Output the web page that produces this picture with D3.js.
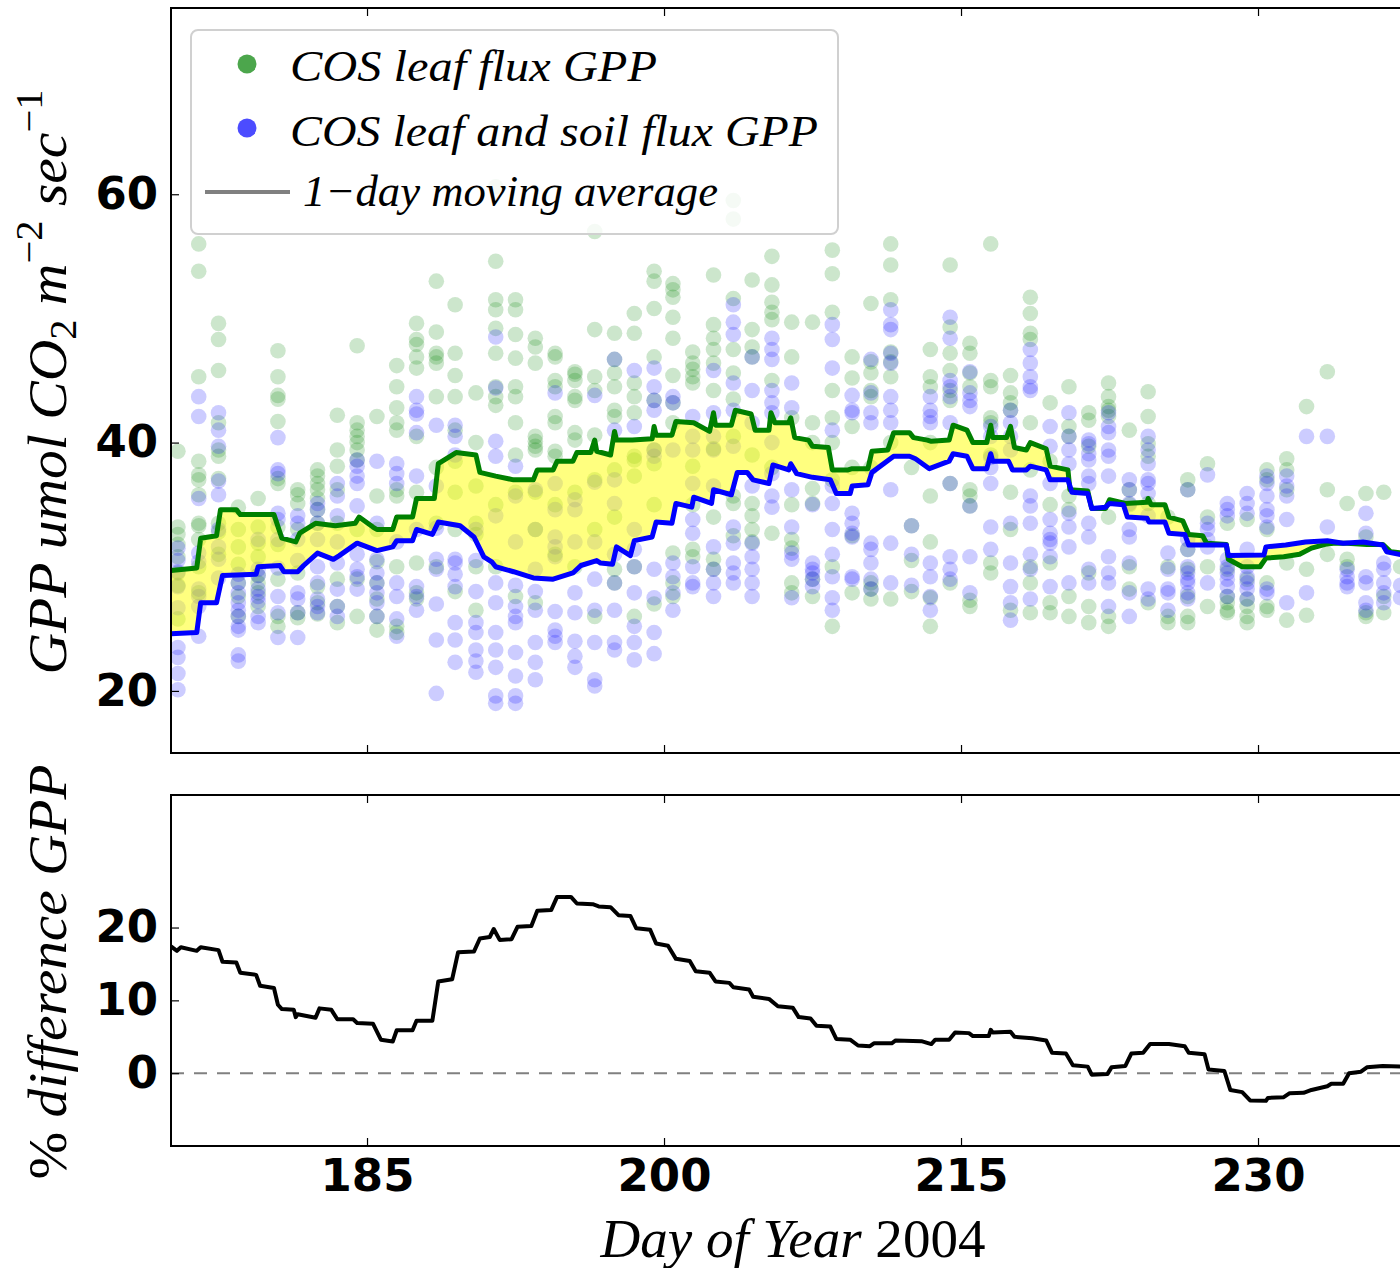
<!DOCTYPE html>
<html><head><meta charset="utf-8">
<script src="https://cdn.jsdelivr.net/npm/d3@7"></script>
<style>body{margin:0;background:#fff} svg{display:block}</style>
</head><body><svg id="c" width="1400" height="1268"></svg>
<script>
// ---------- DATA ----------
const colDays = [175.45,176.5,177.5,178.5,179.5,180.5,181.5,182.5,183.5,184.5,185.5,186.5,187.5,188.5,189.45,190.5,191.5,192.5,193.5,194.5,195.5,196.5,197.5,198.5,199.5,200.45,201.45,202.5,203.5,204.45,205.45,206.45,207.5,208.5,209.5,210.45,211.45,212.5,213.45,214.45,215.45,216.5,217.5,218.5,219.5,220.45,221.45,222.45,223.5,224.45,225.45,226.45,227.45,228.45,229.45,230.45,231.45,232.45,233.5,234.5,235.45,236.35,237.2];
const leafGPP = [
[39.3,33.2,32.6,31.8,30.8,29.5,28.5,25.8],
[56.0,53.8,45.3,38.5,37.4,37.0,35.8,33.5,33.3,32.2,30.0,27.9],
[49.6,48.3,45.8,41.6,39.4,38.9,37.1,33.5,32.8,31.0],
[34.8,33.0,31.6,30.2,28.7,27.6,26.0],
[35.5,33.2,31.9,30.8,29.3,28.7,27.9,26.8],
[47.4,45.3,43.8,43.5,41.7,37.1,36.7,33.2,31.8,29.0,26.0,25.2],
[36.2,35.8,35.1,33.0,29.5,26.3,25.9],
[37.8,37.3,36.7,36.2,35.5,34.6,33.5,28.4,27.1,26.2],
[42.2,39.4,38.1,36.2,33.5,29.0,26.8,25.5],
[47.8,41.6,41.0,40.5,40.0,39.4,38.6,33.0,29.0,26.0],
[42.1,35.7,33.0,30.4,28.7,27.4,26.0,24.9],
[46.2,44.5,42.8,41.6,41.0,36.2,35.7,30.0,25.2,24.7],
[49.6,48.3,47.9,46.9,46.0,40.5,36.0,30.3,27.9,27.4],
[53.0,48.9,47.2,46.9,46.4,43.7,38.0,33.5,30.0],
[51.1,47.2,45.4,43.7,41.0,38.5,36.0,33.0,28.0],
[44.0,40.0,36.5,33.5,32.6,30.0,26.5],
[60.6,54.6,51.5,50.7,49.2,47.2,44.5,43.7,43.0,35.0,30.0],
[51.5,50.7,48.7,46.8,44.5,43.7,41.6,39.0,36.0,27.6],
[48.4,47.7,46.4,40.5,40.1,39.7,39.4,36.0,33.0,27.1],
[47.2,46.9,45.0,44.5,42.1,41.6,39.3,38.9,35.0,31.0],
[45.7,45.5,45.0,43.7,43.4,40.8,40.2,36.0,30.0],
[57.0,49.1,45.3,44.2,40.6,37.0,33.0,26.0],
[48.8,46.7,45.6,44.5,42.6,42.1,37.8,34.0,29.8,28.7],
[50.4,48.8,44.8,43.7,42.4,38.9,38.6,37.3,30.0,26.0],
[53.8,53.0,50.8,46.9,43.4,39.4,38.3,35.0,27.0],
[52.8,52.3,51.7,50.1,48.4,45.4,43.2,41.6,31.1,28.7,27.6],
[47.3,46.4,45.9,45.3,44.8,38.1,35.0,31.4,30.8],
[53.5,49.5,48.4,47.5,46.4,44.2,39.5,34.0,30.6,29.8],
[59.5,58.0,51.6,47.5,45.6,43.5,40.5,35.7,35.1,32.5],
[53.1,49.1,47.7,46.9,39.0,35.1,34.1,33.0,32.0],
[55.0,52.7,51.3,50.5,49.9,45.0,38.0,32.7],
[49.7,46.9,42.0,35.0,32.2,31.5,28.7,27.9],
[49.7,41.6,40.0,36.3,35.1,29.0,27.6],
[55.5,53.6,50.5,44.2,42.0,40.0,37.0,30.0,25.2],
[46.9,45.2,41.3,38.0,32.5,27.9],
[51.2,46.5,45.6,44.2,43.7,38.0,28.7,28.2,27.4],
[56.0,54.3,51.5,47.3,46.5,45.3,40.0,27.4],
[38.0,33.3,30.5,28.0],
[47.5,45.3,44.5,40.0,35.7,32.0,27.5,25.2],
[54.3,49.3,47.2,45.8,44.2,43.4,36.7,28.7],
[48.0,47.2,45.6,44.5,36.2,35.7,34.9,27.3,26.8],
[56.0,45.0,44.5,42.0,41.6,39.0,30.3,29.5],
[45.4,44.0,43.2,42.6,36.0,33.0,26.5],
[51.7,50.4,48.8,48.3,41.6,37.8,30.0,28.7,26.3],
[43.2,38.5,35.0,30.3,27.1,26.3],
[44.5,41.3,40.5,35.7,34.6,27.6,26.0],
[42.4,41.8,39.7,29.5,26.8,25.5],
[44.8,43.7,42.9,42.6,42.1,34.0,26.0,25.2],
[41.0,36.2,35.0,30.0,28.2],
[44.1,42.1,39.9,38.9,35.1,27.1],
[34.0,30.0,26.0,25.5],
[37.0,36.2,31.4,29.8,27.6,26.0,25.5],
[38.3,34.0,30.0,26.8],
[33.5,29.8,27.6,27.1,26.5,26.3],
[33.8,29.0,27.4,26.8,26.0,25.5],
[37.8,37.0,33.0,28.7,26.8,26.5],
[38.7,37.8,36.2,30.3,25.7],
[42.9,29.8,26.1],
[45.7,36.2,31.0],
[35.1,30.6,30.0],
[35.9,32.4,26.3,26.0],
[36.0,27.6,26.3],
[30.0]
];
const soilGPP = [
[31.5,30.5,29.6,28.4,26.7,23.5,22.7,21.4,20.1],
[43.7,42.1,35.5,31.1,30.4,28.2,27.6,26.8,24.4],
[42.4,41.0,39.7,36.9,35.8,33.0,31.6,30.6,29.1],
[29.4,28.7,27.9,27.1,26.5,26.0,25.2,24.9,22.9,22.4],
[32.2,29.8,29.3,28.2,27.6,27.2,26.0,25.5],
[40.4,37.8,37.5,34.3,33.8,32.2,29.9,27.6,26.3,24.3],
[34.1,33.5,32.2,30.5,27.9,27.4,26.3,24.3],
[35.1,34.6,33.5,32.2,30.0,28.7,27.4,26.8,26.3],
[36.7,35.7,34.1,32.0,30.3,28.2,26.8,26.0],
[38.6,38.1,37.3,36.7,34.9,31.0,29.8,29.2,28.2],
[38.5,33.5,30.6,29.5,28.7,27.9,27.1,26.0],
[38.3,37.5,36.7,32.0,28.7,27.6,25.8,24.4],
[43.7,42.6,42.3,40.8,37.3,33.0,28.4,27.6,26.5],
[41.4,36.5,33.1,30.6,29.8,27.0,24.1,19.8],
[41.4,40.5,39.0,30.6,30.3,29.4,28.4,25.5,24.1,22.3],
[33.0,30.5,28.0,25.5,24.7,23.3,22.4,21.5],
[48.5,44.4,40.1,38.9,34.1,28.7,27.1,24.7,23.3,21.9,19.6,19.0],
[38.1,35.7,32.0,28.5,26.8,26.0,25.5,23.1,21.2,19.6,19.0],
[36.2,33.0,29.8,28.0,26.5,23.9,22.3,20.9],
[44.0,36.7,34.6,32.4,31.6,30.8,26.4,24.9,24.4,23.9],
[35.4,34.6,32.0,27.9,26.3,24.0,22.8,21.9],
[43.8,36.8,32.0,29.0,26.5,23.9,20.9,20.4],
[46.7,41.0,37.0,35.1,31.0,28.7,26.5,23.9,23.3],
[45.8,41.3,33.0,31.4,30.0,27.9,25.2,23.9,22.5],
[46.0,44.5,43.4,42.6,39.4,38.9,29.8,27.5,24.7,23.0],
[43.7,43.2,39.4,30.3,29.2,27.9,26.5],
[42.1,40.5,39.4,36.7,33.8,32.7,30.0,28.7,28.4],
[45.8,42.4,40.5,39.4,36.5,31.6,29.8,28.7,27.6],
[51.1,49.7,48.7,44.8,42.6,39.7,33.2,31.9,30.3,29.5,28.7],
[46.9,44.2,41.6,36.5,31.9,30.8,29.8,28.7,27.6],
[48.4,47.5,46.7,44.2,43.2,42.4,40.0,37.5,35.7,34.8],
[44.8,42.8,36.2,33.2,31.1,30.6,27.5],
[35.0,30.3,29.8,29.5,29.0,28.4],
[49.5,48.3,46.0,41.0,36.5,35.1,33.0,31.0,29.2,27.5,26.5],
[43.8,42.6,42.4,34.3,33.5,32.7,32.4,29.2,29.0],
[46.7,44.0,42.4,41.6,31.9,31.4,30.3,29.0,28.2],
[50.7,49.5,49.1,47.2,46.4,43.7,42.6,41.6,36.2,31.9,28.7],
[33.3,31.0,28.5],
[43.7,42.6,42.1,41.6,30.3,29.2,27.6,26.5],
[50.1,48.4,45.0,44.5,43.7,41.6,36.7,30.8,29.8,29.0],
[45.7,44.0,43.4,42.9,34.9,30.8,27.9],
[41.3,40.5,38.8,38.0,36.7,33.2,31.4],
[42.6,41.6,40.5,39.4,33.5,30.3,28.4,27.1,25.7],
[47.5,46.4,45.3,44.5,44.2,35.7,34.9,33.5,31.0,29.8,27.4],
[41.3,39.7,36.7,33.8,32.7,32.2,31.9,30.8,28.4],
[42.4,40.5,39.4,38.3,34.3,33.2,31.6,28.7],
[40.2,39.9,39.1,38.6,37.3,36.7,33.5,32.4,29.8,28.7],
[42.4,41.3,40.8,39.4,38.9,37.3,30.8,29.5,28.7,26.8],
[37.0,36.2,35.1,33.0,32.4,30.3,27.9,26.0],
[40.5,39.4,38.3,37.0,36.7,35.9,34.1,28.2,27.4],
[31.1,29.8,28.2,27.9,26.5],
[36.2,32.2,31.4,30.0,29.5,29.0,28.7,27.9,27.4],
[37.4,33.5,33.0,32.2,31.6,28.7],
[35.1,34.6,34.1,30.6,30.0,29.5,29.0,28.4,27.6],
[35.9,35.1,34.3,31.4,30.0,29.2,28.7,28.2,27.4],
[37.3,36.7,35.7,34.6,34.1,33.2,28.2,27.9],
[37.3,36.5,35.7,33.8,27.1],
[40.5,27.9],
[40.5,33.2],
[29.8,29.2,28.7,28.4],
[34.3,32.7,29.2,28.7,27.1,26.5],
[30.3,29.8,28.7,27.9,27.1],
[28.5,27.5]
];
// 1-day moving averages
const maLeafDay = [175.1,176.4,176.6,177.4,177.6,178.4,178.6,180.3,180.7,181.4,181.6,182.4,183.4,184.4,184.6,185.3,185.5,186.3,186.5,187.3,187.5,188.4,188.6,189.5,190.5,190.7,191.5,192.4,193.4,193.6,194.4,194.6,195.4,195.6,196.3,196.5,196.6,197.3,197.5,197.6,198.4,199.4,199.5,199.6,200.4,200.6,201.5,202.3,202.5,202.6,203.4,203.6,204.4,204.6,205.3,205.4,205.6,206.3,206.4,206.6,207.3,207.5,208.3,208.5,209.3,209.5,210.3,210.5,211.3,211.6,212.4,212.6,213.3,213.5,214.4,214.6,215.3,215.6,216.3,216.5,216.6,217.3,217.5,217.7,218.3,218.5,219.3,219.5,220.4,220.5,221.4,221.6,222.3,222.5,223.3,224.4,224.45,224.6,225.3,225.5,226.2,226.5,227.2,227.4,228.4,228.5,229.2,230.1,230.4,231.3,232.1,232.7,233.4,233.8,234.5,235.5,236.3,236.7,237.3];
const maLeafVal = [29.7,29.9,32.3,32.5,34.6,34.6,34.2,34.2,32.3,32.0,32.7,33.5,33.3,33.5,34.0,33.2,33.0,33.0,34.0,34.0,35.5,35.5,38.3,39.2,39.0,37.6,37.3,37.0,37.0,37.8,37.8,38.5,38.5,39.2,39.2,40.2,39.3,39.0,40.9,40.2,40.2,40.3,41.3,40.6,40.6,41.7,41.6,40.9,42.4,41.4,41.4,42.6,42.3,41.0,41.0,42.4,41.6,41.6,42.0,40.4,40.2,39.7,39.6,37.8,37.8,37.9,37.9,39.3,39.4,40.8,40.8,40.4,40.2,40.1,40.2,41.4,41.0,40.0,40.0,41.4,40.4,40.4,41.3,39.6,39.4,40.0,39.5,38.1,37.8,36.2,36.1,34.7,34.7,35.4,35.1,35.2,35.5,35.0,35.0,34.0,33.7,32.6,32.5,31.9,31.8,30.6,30.0,30.0,30.7,30.8,31.0,31.5,31.8,31.9,31.9,31.8,31.8,31.2,31.1];
const maSoilDay = [175.1,176.4,176.6,177.4,177.7,179.4,179.5,180.6,180.8,181.5,181.8,182.5,183.3,183.6,184.5,185.5,186.3,186.5,187.3,187.5,188.3,188.6,189.7,190.4,190.9,191.3,191.5,192.4,193.4,194.4,195.4,195.8,196.6,196.8,197.4,197.6,198.3,198.5,199.4,199.6,200.4,200.6,201.4,201.5,202.4,202.5,203.4,203.7,204.2,204.5,205.3,205.5,206.3,206.4,206.7,207.5,208.4,208.7,209.4,209.5,210.3,210.5,211.6,212.4,212.7,213.4,214.4,214.6,215.3,215.6,216.3,216.5,216.6,217.4,217.6,218.3,218.5,219.3,219.5,220.4,220.6,221.4,221.6,222.3,222.5,223.2,223.4,224.4,224.5,225.3,225.5,226.3,226.5,228.4,228.5,230.3,230.4,231.4,232.4,233.5,234.3,235.3,236.3,236.5,237.3];
const maSoilVal = [24.6,24.7,27.1,27.1,29.3,29.4,30.0,30.1,29.6,29.6,30.1,31.1,30.6,30.9,31.9,31.3,31.6,32.1,32.1,33.0,32.6,33.6,33.3,32.4,30.8,30.4,30.0,29.6,29.1,29.0,29.5,30.1,30.5,30.3,30.2,31.6,30.9,32.1,32.4,33.6,33.5,35.1,34.8,35.6,35.1,36.2,35.8,37.6,37.6,37.0,36.7,38.2,37.8,38.3,37.5,37.2,37.0,35.9,35.9,36.5,36.6,37.6,38.9,38.9,38.7,37.9,38.5,39.1,38.9,37.9,37.9,39.1,38.5,38.5,37.8,37.8,38.1,37.8,37.0,37.0,36.0,35.9,34.7,34.8,35.1,35.0,34.0,33.9,33.6,33.6,32.7,32.6,31.75,31.75,30.9,30.95,31.6,31.75,32.0,32.1,31.9,32.0,31.75,31.2,30.95];
// % difference GPP
const pctDay = [175.1,175.4,175.6,176.4,176.6,177.5,177.7,178.4,178.6,179.4,179.6,180.3,180.5,180.7,181.3,181.4,181.5,182.4,182.6,183.2,183.5,184.3,184.5,185.3,185.7,186.3,186.5,187.3,187.5,188.3,188.6,189.3,189.6,190.4,190.7,191.2,191.4,191.7,192.3,192.6,193.3,193.6,194.3,194.6,195.3,195.6,196.4,196.7,197.3,197.7,198.3,198.6,199.3,199.6,200.2,200.6,201.3,201.6,202.3,202.6,203.3,203.5,204.3,204.5,205.3,205.75,206.5,206.8,207.4,207.7,208.4,208.7,209.4,209.8,210.4,210.6,211.5,211.7,213.0,213.5,213.7,214.4,214.7,215.4,215.6,216.4,216.5,216.6,217.5,217.7,218.6,219.3,219.6,220.3,220.65,221.4,221.6,222.4,222.6,223.3,223.6,224.2,224.55,225.5,226.3,226.5,227.3,227.5,228.3,228.6,229.2,229.6,230.4,230.5,231.3,231.6,232.3,232.7,233.5,233.7,234.3,234.6,235.2,235.5,236.3,237.3];
const pctVal = [17.4,16.8,17.3,16.8,17.3,16.9,15.3,15.2,13.8,13.5,12.0,11.7,9.4,8.8,8.7,7.7,8.1,7.6,8.9,8.7,7.4,7.4,6.9,6.8,4.6,4.35,5.9,5.9,7.2,7.2,12.6,12.9,16.6,16.7,18.5,18.7,19.8,18.3,18.4,20.1,20.2,22.3,22.4,24.2,24.2,23.3,23.2,22.9,22.8,21.7,21.6,19.9,19.7,17.8,17.5,15.7,15.4,14.0,13.8,12.6,12.4,11.8,11.5,10.5,10.2,9.2,9.0,7.7,7.5,6.5,6.4,4.7,4.6,3.8,3.7,4.1,4.1,4.5,4.4,4.0,4.6,4.6,5.6,5.5,5.1,5.1,5.95,5.6,5.7,5.0,4.8,4.5,2.8,2.7,1.1,0.9,-0.2,-0.1,0.8,1.0,2.7,2.8,4.0,4.0,3.7,2.8,2.6,0.5,0.3,-2.3,-2.6,-3.75,-3.8,-3.4,-3.3,-2.75,-2.7,-2.3,-1.8,-1.45,-1.45,0.0,0.2,0.8,1.0,0.9];
const xTicks = [185, 200, 215, 230];
const yTopTicks = [20, 40, 60];
const yBotTicks = [0, 10, 20];
const legendLabels = ["COS leaf flux GPP", "COS leaf and soil flux GPP", "1\u2212day moving average"];

// ---------- DRAW ----------
const svg = d3.select("#c");
const x = d3.scaleLinear().domain([175.1, 240]).range([171, 171 + (240 - 175.1) * 19.8]);
const yTop = d3.scaleLinear().domain([15, 75]).range([753, 8]);
const yBot = d3.scaleLinear().domain([-10, 38.2]).range([1146, 795]);
const L = 171, R = x(240);

const defs = svg.append("defs");
defs.append("clipPath").attr("id", "cTop").append("rect").attr("x", L).attr("y", 8).attr("width", R - L).attr("height", 745);
defs.append("clipPath").attr("id", "cBot").append("rect").attr("x", L).attr("y", 795).attr("width", R - L).attr("height", 351);

// top panel
const gTop = svg.append("g").attr("clip-path", "url(#cTop)");
const leafPts = [], soilPts = [];
colDays.forEach((d, i) => {
  leafGPP[i].forEach(v => leafPts.push([d, v]));
  soilGPP[i].forEach(v => soilPts.push([d, v]));
});
gTop.append("g").selectAll("circle").data(leafPts).join("circle")
  .attr("cx", d => x(d[0])).attr("cy", d => yTop(d[1])).attr("r", 7.8)
  .attr("fill", "#008000").attr("fill-opacity", 0.2);
gTop.append("g").selectAll("circle").data(soilPts).join("circle")
  .attr("cx", d => x(d[0])).attr("cy", d => yTop(d[1])).attr("r", 7.8)
  .attr("fill", "#0000ff").attr("fill-opacity", 0.2);

const maLeaf = maLeafDay.map((d, i) => [d, maLeafVal[i]]);
const maSoil = maSoilDay.map((d, i) => [d, maSoilVal[i]]);
const lineTop = d3.line().x(d => x(d[0])).y(d => yTop(d[1]));
gTop.append("path").attr("d", lineTop(maLeaf.concat(maSoil.slice().reverse())) + "Z")
  .attr("fill", "#ffff00").attr("fill-opacity", 0.5).attr("fill-rule", "evenodd");
gTop.append("path").attr("d", lineTop(maLeaf)).attr("fill", "none")
  .attr("stroke", "#008000").attr("stroke-width", 5).attr("stroke-linejoin", "round");
gTop.append("path").attr("d", lineTop(maSoil)).attr("fill", "none")
  .attr("stroke", "#0000ff").attr("stroke-width", 5).attr("stroke-linejoin", "round");

// bottom panel
const gBot = svg.append("g").attr("clip-path", "url(#cBot)");
gBot.append("line").attr("x1", L).attr("x2", R).attr("y1", yBot(0)).attr("y2", yBot(0))
  .attr("stroke", "#808080").attr("stroke-width", 2).attr("stroke-dasharray", "13,10");
const pct = pctDay.map((d, i) => [d, pctVal[i]]);
gBot.append("path").attr("d", d3.line().x(d => x(d[0])).y(d => yBot(d[1]))(pct))
  .attr("fill", "none").attr("stroke", "#000").attr("stroke-width", 4).attr("stroke-linejoin", "round");

// axes
function styleAxis(g) {
  g.select(".domain").remove();
  g.selectAll(".tick line").attr("stroke", "#000").attr("stroke-width", 1.2);
  g.selectAll(".tick text").attr("fill", "#000").style("font-family", "'DejaVu Sans'")
   .style("font-weight", "bold").style("font-size", "45px");
}
svg.append("g").attr("transform", "translate(0,8)").call(d3.axisTop(x).tickValues(xTicks).tickSize(-8).tickFormat("")).call(styleAxis);
svg.append("g").attr("transform", "translate(0,753)").call(d3.axisBottom(x).tickValues(xTicks).tickSize(-8).tickFormat("")).call(styleAxis);
svg.append("g").attr("transform", "translate(0,795)").call(d3.axisTop(x).tickValues(xTicks).tickSize(-8).tickFormat("")).call(styleAxis);
svg.append("g").attr("transform", "translate(0,1146)").call(d3.axisBottom(x).tickValues(xTicks).tickSize(-8).tickPadding(13).tickFormat(d3.format("d"))).call(styleAxis);
svg.append("g").attr("transform", `translate(${L},0)`).call(d3.axisLeft(yTop).tickValues(yTopTicks).tickSize(-8).tickPadding(13).tickFormat(d3.format("d"))).call(styleAxis);
svg.append("g").attr("transform", `translate(${L},0)`).call(d3.axisLeft(yBot).tickValues(yBotTicks).tickSize(-8).tickPadding(13).tickFormat(d3.format("d"))).call(styleAxis);

// frames
svg.append("rect").attr("x", L).attr("y", 8).attr("width", R - L).attr("height", 745).attr("fill", "none").attr("stroke", "#000").attr("stroke-width", 2);
svg.append("rect").attr("x", L).attr("y", 795).attr("width", R - L).attr("height", 351).attr("fill", "none").attr("stroke", "#000").attr("stroke-width", 2);

// legend
const serif = "'Liberation Serif', 'DejaVu Serif', serif";
const lg = svg.append("g");
lg.append("rect").attr("x", 191).attr("y", 30).attr("width", 647).attr("height", 204).attr("rx", 7)
  .attr("fill", "#fff").attr("fill-opacity", 0.8).attr("stroke", "#d0d0d0").attr("stroke-width", 2);
lg.append("circle").attr("cx", 247).attr("cy", 64).attr("r", 9.5).attr("fill", "#008000").attr("fill-opacity", 0.7);
lg.append("circle").attr("cx", 247).attr("cy", 128).attr("r", 9.5).attr("fill", "#0000ff").attr("fill-opacity", 0.7);
lg.append("line").attr("x1", 205).attr("x2", 290).attr("y1", 192).attr("y2", 192).attr("stroke", "#808080").attr("stroke-width", 4);
const lgX = [290, 290, 303], lgY = [81, 146, 206], lgW = [367, 528, 415];
legendLabels.forEach((t, i) => {
  lg.append("text").attr("x", lgX[i]).attr("y", lgY[i]).text(t)
    .attr("textLength", lgW[i]).attr("lengthAdjust", "spacingAndGlyphs")
    .style("font-family", serif).style("font-style", "italic").style("font-size", "44px");
});

// axis labels
const xl = svg.append("text").attr("x", 793).attr("y", 1257).attr("text-anchor", "middle")
  .attr("textLength", 385).attr("lengthAdjust", "spacingAndGlyphs")
  .style("font-family", serif).style("font-size", "54px");
xl.append("tspan").style("font-style", "italic").text("Day of Year ");
xl.append("tspan").text("2004");

const yl = svg.append("text").attr("transform", "translate(66,382) rotate(-90)").attr("text-anchor", "middle")
  .style("font-family", serif).style("font-size", "54px").attr("textLength", 585).attr("lengthAdjust", "spacingAndGlyphs");
yl.append("tspan").style("font-style", "italic").text("GPP umol CO");
yl.append("tspan").attr("dy", 10).style("font-size", "38px").text("2");
yl.append("tspan").attr("dy", -10).style("font-style", "italic").text(" m");
yl.append("tspan").attr("dy", -24).style("font-size", "38px").text("\u22122");
yl.append("tspan").attr("dy", 24).style("font-style", "italic").text(" sec");
yl.append("tspan").attr("dy", -24).style("font-size", "38px").text("\u22121");

const yl2 = svg.append("text").attr("transform", "translate(66,972) rotate(-90)").attr("text-anchor", "middle")
  .style("font-family", serif).style("font-size", "54px").attr("textLength", 415).attr("lengthAdjust", "spacingAndGlyphs");
yl2.append("tspan").text("% ");
yl2.append("tspan").style("font-style", "italic").text("difference GPP");
</script></body></html>
